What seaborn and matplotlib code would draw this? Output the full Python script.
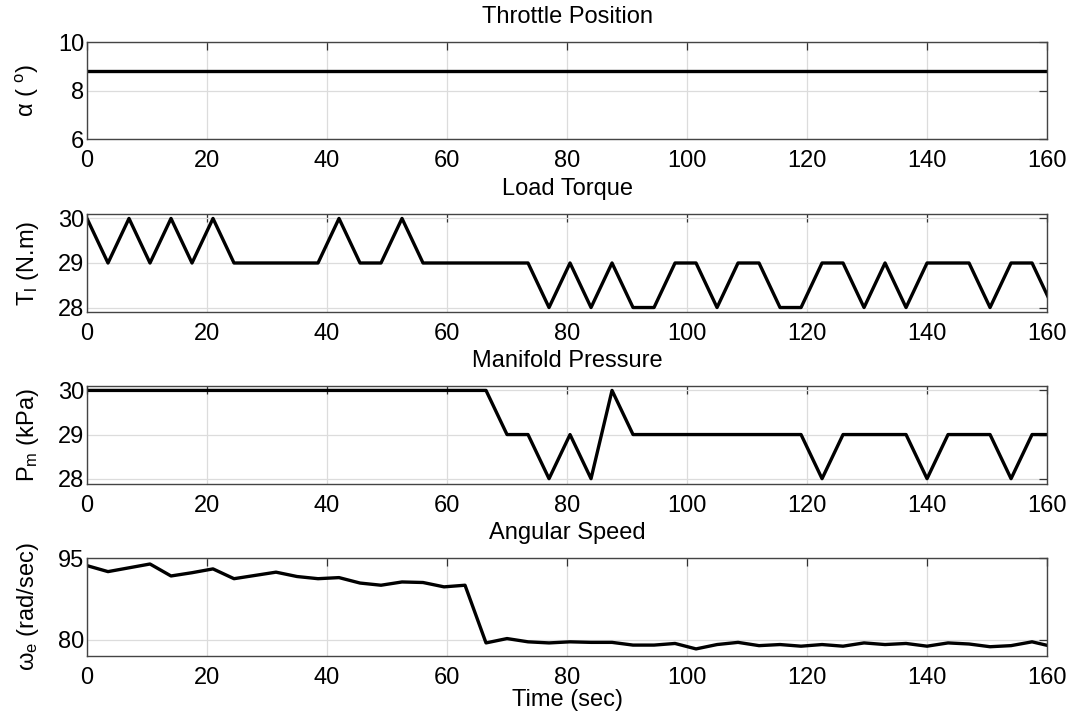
import numpy as np
import pandas as pd
import seaborn as sns
import matplotlib.pyplot as plt

# sample times (sec)
time_s = [0, 3.5, 7, 10.5, 14, 17.5, 21, 24.5, 28, 31.5, 35, 38.5, 42, 45.5, 49,
          52.5, 56, 59.5, 63, 66.5, 70, 73.5, 77, 80.5, 84, 87.5, 91, 94.5, 98,
          101.5, 105, 108.5, 112, 115.5, 119, 122.5, 126, 129.5, 133, 136.5, 140,
          143.5, 147, 150.5, 154, 157.5, 161]

throttle = [8.8] * len(time_s)

load_torque = [30, 29, 30, 29, 30, 29, 30, 29, 29, 29, 29, 29, 30, 29, 29,
               30, 29, 29, 29, 29, 29, 29, 28, 29, 28, 29, 28, 28, 29,
               29, 28, 29, 29, 28, 28, 29, 29, 28, 29, 28, 29,
               29, 29, 28, 29, 29, 28]

manifold_p = [30, 30, 30, 30, 30, 30, 30, 30, 30, 30, 30, 30, 30, 30, 30,
              30, 30, 30, 30, 30, 29, 29, 28, 29, 28, 30, 29, 29, 29,
              29, 29, 29, 29, 29, 29, 28, 29, 29, 29, 29, 28,
              29, 29, 29, 28, 29, 29]

ang_speed = [93.6, 92.5, 93.2, 93.9, 91.7, 92.3, 93.0, 91.2, 91.8, 92.4, 91.6, 91.2, 91.4, 90.4, 90.0,
             90.6, 90.5, 89.7, 90.0, 79.4, 80.2, 79.6, 79.4, 79.6, 79.5, 79.5, 79.0, 79.0, 79.3,
             78.3, 79.1, 79.5, 78.9, 79.1, 78.8, 79.1, 78.8, 79.4, 79.1, 79.3, 78.8,
             79.4, 79.2, 78.7, 78.9, 79.6, 78.7]

titles = ['Throttle Position', 'Load Torque', 'Manifold Pressure', 'Angular Speed']
ylabels = [r'$\alpha$ ( $^{\mathrm{o}}$)', r'T$_{\mathrm{l}}$ (N.m)',
           r'P$_{\mathrm{m}}$ (kPa)', r'$\omega_{\mathrm{e}}$ (rad/sec)']
ylims = [(6, 10), (27.9, 30.1), (27.88, 30.1), (77, 95)]
yticks = [[6, 8, 10], [28, 29, 30], [28, 29, 30], [80, 95]]
xticks = [0, 20, 40, 60, 80, 100, 120, 140, 160]

sns.set_style('white')
plt.rcParams['font.family'] = ['Liberation Sans', 'DejaVu Sans']
plt.rcParams['mathtext.fontset'] = 'custom'
plt.rcParams['mathtext.rm'] = 'Liberation Sans'
plt.rcParams['mathtext.it'] = 'Liberation Sans'
plt.rcParams['text.color'] = 'black'
plt.rcParams['axes.labelcolor'] = 'black'

df = pd.DataFrame({'time': time_s, 'throttle': throttle, 'torque': load_torque,
                   'pressure': manifold_p, 'speed': ang_speed})
cols = ['throttle', 'torque', 'pressure', 'speed']

fig = plt.figure(figsize=(10.82, 7.23), dpi=100)
# axes boxes in figure fractions [left, bottom, width, height]
boxes = [[0.0804, 0.8077, 0.8873, 0.1342],
         [0.0804, 0.5685, 0.8873, 0.1355],
         [0.0804, 0.3306, 0.8873, 0.1355],
         [0.0804, 0.0927, 0.8873, 0.1355]]

for i, col in enumerate(cols):
    ax = fig.add_axes(boxes[i])
    sns.lineplot(data=df, x='time', y=col, ax=ax, color='black', linewidth=2.4)
    ax.set_xlim(0, 160)
    ax.set_ylim(*ylims[i])
    ax.set_xticks(xticks)
    ax.set_yticks(yticks[i])
    ax.grid(True, color='#dcdcdc', linewidth=0.9)
    ax.tick_params(direction='in', top=True, right=True, length=6, width=0.9,
                   labelsize=17, colors='#333333', labelcolor='black')
    ax.tick_params(axis='x', pad=8)
    ax.tick_params(axis='y', pad=2)
    for s in ax.spines.values():
        s.set_color('#444444')
        s.set_linewidth(1.0)
    ax.set_title(titles[i], fontsize=17, pad=14, color='black')
    ax.set_ylabel(ylabels[i], fontsize=17, labelpad=12)
    ax.set_xlabel('Time (sec)' if i == 3 else '', fontsize=17, labelpad=0)

plt.savefig('out.png', dpi=100)
